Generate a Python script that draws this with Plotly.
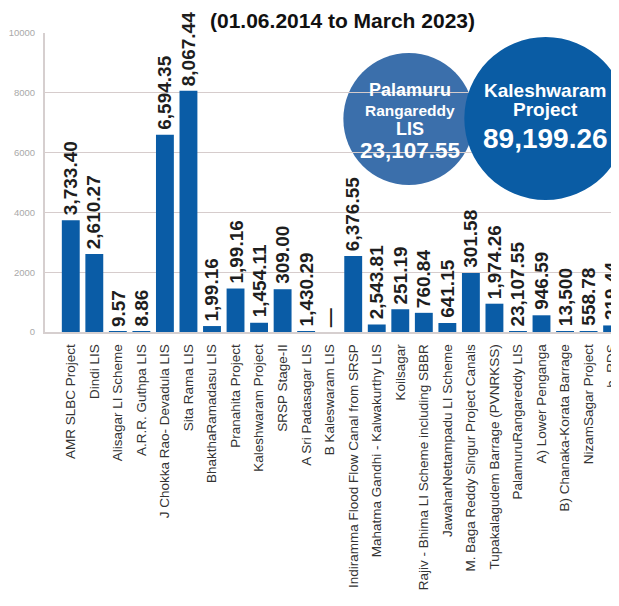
import plotly.graph_objects as go

categories = [
    "AMR SLBC Project", "Dindi LIS", "Alisagar LI Scheme", "A.R.R. Guthpa LIS",
    "J Chokka Rao- Devadula LIS", "Sita Rama LIS", "BhakthaRamadasu LIS",
    "Pranahita Project", "Kaleshwaram Project", "SRSP Stage-II",
    "A Sri Padasagar LIS", "B Kaleswaram LIS", "Indiramma Flood Flow Canal from SRSP",
    "Mahatma Gandhi - Kalwakurthy LIS", "Koilsagar",
    "Rajiv - Bhima LI Scheme including SBBR", "JawaharNettampadu LI Scheme",
    "M. Baga Reddy Singur Project Canals", "Tupakalagudem Barrage (PVNRKSS)",
    "PalamuruRangareddy LIS", "A) Lower Penganga", "B) Chanaka-Korata Barrage",
    "NizamSagar Project", "b. RDS",
]
bar_values = [
    3733.40, 2610.27, 9.57, 8.86, 6594.35, 8067.44, 199.16, 1454.11, 309.00,
    1430.29, 25, 0, 2543.81, 251.19, 760.84, 641.15, 301.58, 1974.26, 946.59,
    30, 558.78, 30, 30, 219.44,
]
value_labels = [
    "3,733.40", "2,610.27", "9.57", "8.86", "6,594.35", "8,067.44", "1,99.16",
    "1,99.16", "1,454.11", "309.00", "1,430.29", "—", "6,376.55", "2,543.81",
    "251.19", "760.84", "641.15", "301.58", "1,974.26", "23,107.55", "946.59",
    "13,500", "558.78", "219.44",
]
y_ticks = [0, 2000, 4000, 6000, 8000, 10000]
title_text = "(01.06.2014 to March 2023)"
palamuru_lines = ["Palamuru", "Rangareddy", "LIS", "23,107.55"]
kaleshwaram_lines = ["Kaleshwaram", "Project", "89,199.26"]

# page has an 8px body margin; figure sized to fit the 619x606 window
OFF = 8
W, H = 619 - OFF, 606 - OFF
L, R, T = 45 - OFF, 0, 33 - OFF
BOTTOM = 332 - OFF
B = H - BOTTOM
PW, PH = W - L - R, H - T - B


def px(x):
    return (x - OFF - L) / PW


def py(y):
    return (BOTTOM - (y - OFF)) / PH


BLUE = "#0a5ca6"
FONT = "Liberation Sans, Arial, sans-serif"

fig = go.Figure(
    go.Bar(
        x=categories,
        y=bar_values,
        marker=dict(color=BLUE, line=dict(width=0)),
        hoverinfo="skip",
    )
)

shapes = [
    dict(type="circle", xref="paper", yref="paper", layer="below",
         x0=px(346), x1=px(478), y0=py(185), y1=py(53),
         fillcolor="#3b6fab", line=dict(width=0)),
    dict(type="circle", xref="paper", yref="paper", layer="above",
         x0=px(468), x1=px(632), y0=py(200), y1=py(37),
         fillcolor="#0a5ca4", line=dict(width=0)),
]

annotations = []
for cat, val, lab in zip(categories, bar_values, value_labels):
    annotations.append(dict(
        x=cat, y=val, xref="x", yref="y", text=lab, textangle=-90,
        xanchor="center", yanchor="bottom", yshift=4, showarrow=False,
        borderpad=0,
        font=dict(family=FONT, size=19, color="#1e1e1e", weight="bold"),
    ))

annotations.append(
    dict(text=title_text, xref="paper", yref="paper", x=px(345), y=py(OFF),
         xanchor="center", yanchor="top", showarrow=False, borderpad=0,
         font=dict(family=FONT, size=21, color="#111", weight="bold")))
pal_y = [90, 110, 129, 150]
pal_size = [18, 15.5, 18, 22.5]
for t, yy, s in zip(palamuru_lines, pal_y, pal_size):
    annotations.append(dict(text=t, xref="paper", yref="paper", x=px(413), y=py(yy),
                            xanchor="center", yanchor="middle", showarrow=False,
                            font=dict(family=FONT, size=s, color="white", weight="bold")))
kal_y = [90, 109, 138]
kal_size = [19, 19, 28]
for t, yy, s in zip(kaleshwaram_lines, kal_y, kal_size):
    annotations.append(dict(text=t, xref="paper", yref="paper", x=px(550), y=py(yy),
                            xanchor="center", yanchor="middle", showarrow=False,
                            font=dict(family=FONT, size=s, color="white", weight="bold")))

fig.update_layout(
    width=W, height=H,
    margin=dict(l=L, r=R, t=T, b=B, pad=0),
    paper_bgcolor="white", plot_bgcolor="white",
    showlegend=False,
    bargap=0.24,
    shapes=shapes,
    annotations=annotations,
    xaxis=dict(
        type="category",
        range=[-1.095, 23.08],
        tickangle=-90,
        tickfont=dict(family=FONT, size=13.5, color="#333"),
        showgrid=False, ticks="",
        showline=True, linecolor="#d6cfcf", linewidth=1.5,
        ticklabelstandoff=5,
        fixedrange=True,
    ),
    yaxis=dict(
        range=[0, 10000],
        tickvals=y_ticks,
        ticktext=[str(v) for v in y_ticks],
        tickfont=dict(family=FONT, size=9.5, color="#a9a9a9"),
        showgrid=True, gridcolor="#d6cccc", gridwidth=1.2,
        showline=True, linecolor="#d6cfcf", linewidth=2,
        zeroline=False, ticks="",
        ticklabelstandoff=6,
        fixedrange=True,
    ),
)

fig.write_html("out.html")
